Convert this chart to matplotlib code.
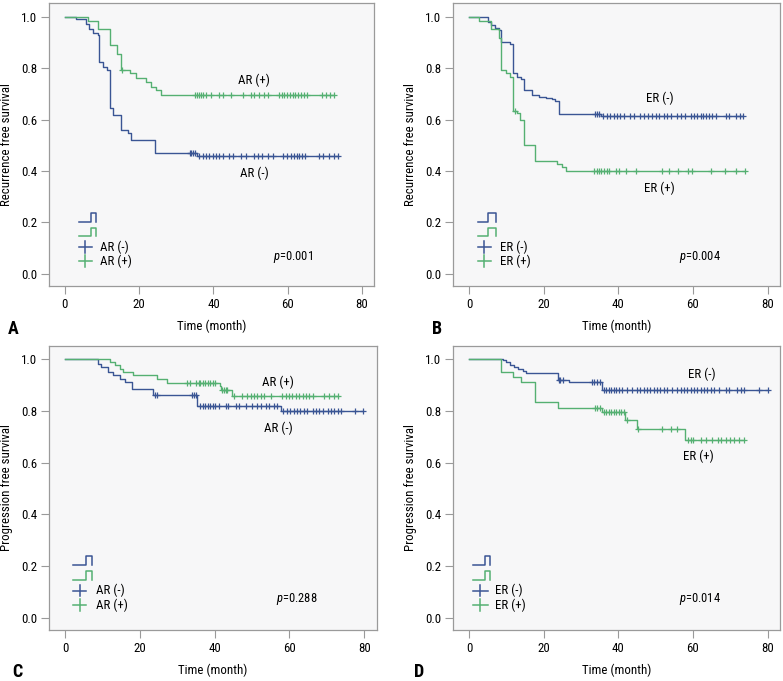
import numpy as np
import matplotlib
matplotlib.use("Agg")
import matplotlib.pyplot as plt

plt.rcParams['font.family'] = ['Roboto Condensed', 'DejaVu Sans']
plt.rcParams['mathtext.fontset'] = 'custom'
plt.rcParams['mathtext.it'] = 'Roboto Condensed:italic'

BLUE = '#3a5594'
GREEN = '#55b072'
FS = 9.3

# panel A - recurrence free survival by AR
a_neg_t = [3.1, 5.8, 6.5, 7.6, 8.9, 9.2, 10.3, 11.2, 12.1, 13.0, 15.0, 17.0, 17.9, 24.2, 35.5]
a_neg_s = [0.993, 0.974, 0.952, 0.939, 0.929, 0.825, 0.806, 0.793, 0.644, 0.618, 0.56, 0.547, 0.521, 0.472, 0.46]
a_neg_c = [33.6, 34.0, 34.5, 34.9, 36.2, 37.1, 38.0, 38.9, 39.8, 40.7, 41.6, 42.7, 44.3, 45.2, 47.4, 48.8,
           51.0, 51.9, 53.2, 54.6, 55.9, 58.6, 59.9, 60.8, 61.7, 62.4, 63.1, 63.8, 64.7, 68.5, 69.4, 71.1, 72.5, 73.6]
a_pos_t = [6.3, 8.9, 12.1, 13.9, 15.0, 17.4, 19.1, 21.9, 23.3, 24.6, 26.0]
a_pos_s = [0.984, 0.952, 0.89, 0.857, 0.793, 0.78, 0.763, 0.745, 0.728, 0.715, 0.698]
a_pos_c = [15.3, 34.9, 35.5, 36.1, 36.7, 37.3, 38.0, 39.4, 41.6, 42.7, 44.7, 47.9, 50.1, 51.0, 52.3, 53.7,
           54.6, 57.7, 58.4, 59.1, 59.8, 60.6, 61.3, 61.9, 62.7, 63.5, 64.4, 65.3, 69.3, 70.2, 71.3, 72.5]

# panel B - recurrence free survival by ER
b_neg_t = [5.1, 6.0, 6.9, 8.1, 8.7, 11.0, 11.7, 12.8, 13.8, 14.6, 16.9, 18.7, 20.5, 22.3, 23.1, 24.0, 35.3]
b_neg_s = [0.98, 0.967, 0.957, 0.95, 0.902, 0.895, 0.781, 0.768, 0.757, 0.714, 0.698, 0.688, 0.685, 0.682,
           0.672, 0.624, 0.614]
b_neg_c = [33.8, 34.3, 34.7, 36.0, 37.0, 37.9, 38.8, 39.6, 40.5, 41.4, 43.1, 44.1, 45.9, 46.8, 47.9, 49.1,
           50.0, 50.9, 52.2, 53.1, 54.0, 55.8, 56.7, 58.0, 59.4, 60.3, 61.2, 62.1, 62.8, 63.4, 64.3, 65.2,
           66.1, 68.8, 69.7, 71.5, 72.7, 73.5]
b_pos_t = [2.7, 5.8, 8.1, 8.7, 10.0, 11.0, 11.7, 12.8, 13.6, 14.7, 17.8, 23.6, 25.0, 26.0]
b_pos_s = [0.985, 0.955, 0.918, 0.792, 0.78, 0.765, 0.635, 0.625, 0.597, 0.50, 0.438, 0.428, 0.414, 0.401]
b_pos_c = [12.2, 33.4, 34.2, 34.8, 35.4, 36.1, 36.9, 37.5, 39.3, 40.2, 42.0, 44.7, 51.8, 53.6, 55.9, 58.6,
           59.7, 64.9, 68.5, 71.6, 74.0]

# panel C - progression free survival by AR
c_neg_t = [8.8, 9.7, 11.5, 12.8, 14.6, 16.0, 17.8, 23.6, 35.4, 57.7]
c_neg_s = [0.983, 0.97, 0.951, 0.938, 0.925, 0.912, 0.886, 0.86, 0.818, 0.799]
c_neg_c = [24.1, 24.7, 33.9, 34.6, 35.1, 36.1, 36.9, 37.5, 38.1, 38.8, 39.5, 40.2, 41.1, 42.9, 43.6, 45.6,
           46.5, 48.3, 50.1, 51.4, 52.3, 53.6, 54.5, 55.9, 56.8, 58.4, 59.3, 60.2, 61.1, 62.0, 62.9, 63.8,
           64.7, 66.2, 67.1, 68.0, 68.9, 70.2, 71.1, 72.0, 72.9, 73.8, 77.4, 79.7]
c_pos_t = [11.9, 13.3, 14.6, 15.5, 18.2, 24.5, 27.2, 41.3, 41.7, 44.7]
c_pos_s = [0.99, 0.977, 0.964, 0.951, 0.938, 0.922, 0.908, 0.895, 0.883, 0.856]
c_pos_c = [32.6, 33.4, 35.1, 35.7, 36.1, 36.9, 37.5, 38.1, 38.8, 39.5, 40.2, 41.9, 42.4, 42.9, 43.3, 45.1,
           47.4, 48.7, 49.6, 50.5, 51.4, 52.3, 53.2, 55.0, 58.1, 59.0, 59.9, 60.8, 61.7, 62.6, 63.5, 64.4,
           65.3, 66.2, 69.3, 70.7, 71.8, 72.9]

# panel D - progression free survival by ER
d_neg_t = [9.2, 10.0, 11.1, 12.0, 13.2, 14.4, 15.2, 23.8, 26.9, 35.6]
d_neg_s = [0.996, 0.99, 0.979, 0.97, 0.961, 0.955, 0.948, 0.921, 0.912, 0.883]
d_neg_c = [24.0, 24.4, 25.1, 32.9, 33.5, 34.3, 35.0, 36.1, 36.8, 37.4, 38.0, 38.8, 39.5, 40.1, 41.0, 42.3,
           43.7, 45.0, 45.9, 46.8, 47.7, 48.6, 49.5, 50.4, 51.3, 52.2, 53.1, 54.5, 55.8, 56.7, 57.6, 58.5,
           59.4, 60.3, 61.2, 62.1, 63.0, 63.9, 64.8, 65.7, 67.0, 68.8, 69.7, 71.9, 72.8, 73.7, 77.8, 80.0]
d_pos_t = [8.7, 11.8, 13.8, 17.7, 23.8, 35.6, 41.9, 44.9, 57.8]
d_pos_s = [0.949, 0.933, 0.912, 0.835, 0.812, 0.795, 0.764, 0.731, 0.687]
d_pos_c = [33.8, 34.4, 35.2, 36.1, 36.8, 37.4, 38.0, 38.8, 39.5, 40.1, 40.7, 41.4, 42.3, 45.3, 51.8, 54.0,
           55.8, 58.7, 59.4, 60.1, 62.1, 63.4, 65.2, 66.6, 67.6, 68.8, 70.0, 71.0, 72.4, 73.7]

panels = [
    dict(pos=[0.063, 0.580, 0.415, 0.415], letter='A', lx=0.017, ly=0.517,
         ylabel='Recurrence free survival', grp='AR',
         neg=(a_neg_t, a_neg_s, a_neg_c), pos_=(a_pos_t, a_pos_s, a_pos_c),
         lab_neg=(51, 0.39), lab_pos=(51, 0.753), p='0.001', pxy=(55.9, 0.067),
         leg=(3.8, 6.9, 8.5, 7.2, 9.4)),
    dict(pos=[0.579, 0.580, 0.417, 0.415], letter='B', lx=0.558, ly=0.517,
         ylabel='Recurrence free survival', grp='ER',
         neg=(b_neg_t, b_neg_s, b_neg_c), pos_=(b_pos_t, b_pos_s, b_pos_c),
         lab_neg=(51, 0.682), lab_pos=(51, 0.333), p='0.004', pxy=(56.2, 0.065),
         leg=(2.4, 5.1, 7.2, 5.8, 8.3)),
    dict(pos=[0.063, 0.075, 0.418, 0.4175], letter='C', lx=0.022, ly=0.013,
         ylabel='Progression free survival', grp='AR',
         neg=(c_neg_t, c_neg_s, c_neg_c), pos_=(c_pos_t, c_pos_s, c_pos_c),
         lab_neg=(57, 0.733), lab_pos=(57, 0.912), p='0.288', pxy=(56.3, 0.071),
         leg=(2.2, 5.6, 7.1, 5.6, 8.3)),
    dict(pos=[0.579, 0.075, 0.417, 0.4175], letter='D', lx=0.535, ly=0.013,
         ylabel='Progression free survival', grp='ER',
         neg=(d_neg_t, d_neg_s, d_neg_c), pos_=(d_pos_t, d_pos_s, d_pos_c),
         lab_neg=(62.3, 0.942), lab_pos=(61.4, 0.626), p='0.014', pxy=(56.2, 0.071),
         leg=(1.1, 4.4, 5.7, 5.0, 6.9)),
]


def km(ax, t, s, c, color):
    t = np.array(t)
    s = np.array(s)
    c = np.array(c)
    end = max(c.max(), t.max())
    x = np.concatenate([[0], t, [end]])
    y = np.concatenate([[1.0], s, [s[-1]]])
    ax.step(x, y, where='post', color=color, lw=1.0)
    idx = np.searchsorted(t, c, side='right')
    cy = np.where(idx > 0, s[np.maximum(idx - 1, 0)], 1.0)
    ax.plot(c, cy, ls='none', marker='+', ms=4.5, mew=0.9, color=color)


fig = plt.figure(figsize=(7.83, 6.81), dpi=100)

for p in panels:
    ax = fig.add_axes(p['pos'])
    ax.set_facecolor('#f7f7f8')
    km(ax, *p['neg'], BLUE)
    km(ax, *p['pos_'], GREEN)
    ax.set_xlim(-4.2, 83.3)
    ax.set_ylim(-0.048, 1.053)
    ax.set_xticks([0, 20, 40, 60, 80])
    ax.set_yticks([0.0, 0.2, 0.4, 0.6, 0.8, 1.0])
    ax.set_yticklabels(['0.0', '0.2', '0.4', '0.6', '0.8', '1.0'])
    for sp in ax.spines.values():
        sp.set_color('#9a9a9a')
        sp.set_linewidth(0.9)
    ax.tick_params(length=5.5, width=0.8, color='#9a9a9a', labelsize=FS, pad=3)
    ax.set_xlabel('Time (month)', fontsize=FS)
    ax.set_ylabel(p['ylabel'], fontsize=FS)
    ax.xaxis.set_label_coords(0.5, -0.12)
    ax.yaxis.set_label_coords(-0.111, 0.5)

    g = p['grp']
    ax.text(*p['lab_pos'], g + ' (+)', ha='center', va='center', fontsize=FS)
    ax.text(*p['lab_neg'], g + ' (-)', ha='center', va='center', fontsize=FS)
    ax.text(p['pxy'][0], p['pxy'][1], r'$\it{p}$=' + p['p'], ha='left', va='center', fontsize=FS - 0.3)

    # legend drawn by hand: step glyphs + crosses
    x0, xm, x1, xc1, xt = p['leg']
    for yc, col in [(0.22, BLUE), (0.162, GREEN)]:
        ax.plot([x0, xm, xm, x1, x1], [yc - 0.017, yc - 0.017, yc + 0.017, yc + 0.017, yc - 0.017],
                color=col, lw=1.1)
    for yc, col, lab in [(0.104, BLUE, g + ' (-)'), (0.049, GREEN, g + ' (+)')]:
        xc = (x0 + xc1) / 2
        ax.plot([x0, xc1], [yc, yc], color=col, lw=1.1)
        ax.plot([xc, xc], [yc - 0.022, yc + 0.022], color=col, lw=1.1)
        ax.text(xt, yc, lab, ha='left', va='center', fontsize=FS)

    fig.text(p['lx'], p['ly'], p['letter'], fontsize=13, fontweight='bold', ha='center', va='center')

fig.savefig('out.png', dpi=100)
